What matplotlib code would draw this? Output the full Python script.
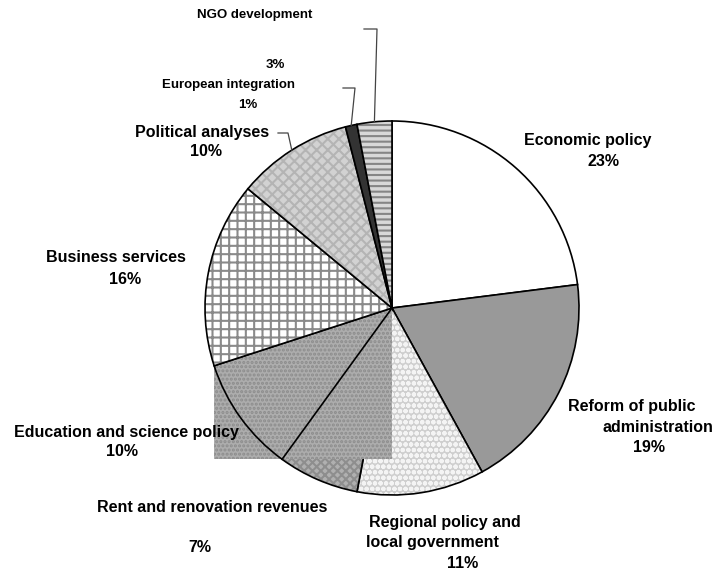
import numpy as np
import matplotlib
matplotlib.use("Agg")
import matplotlib.pyplot as plt
from matplotlib.patches import Wedge, Rectangle

plt.rcParams["hatch.linewidth"] = 1.5

# data (clockwise from 12 o'clock)
categories = [
    "Economic policy", "Reform of public administration",
    "Regional policy and local government", "Rent and renovation revenues",
    "Education and science policy", "Business services",
    "Political analyses", "European integration", "NGO development",
]
shares = [23, 19, 11, 7, 10, 16, 10, 1, 3]

# styles: (face, hatch, hatch colour)
styles = [
    ("#ffffff", None, None),
    ("#999999", None, None),
    ("#cfcfcf", "ooo", "#f4f4f4"),
    ("#b0b0b0", "xxxx", "#8e8e8e"),
    ("#adadad", "....", "#8c8c8c"),
    ("#ffffff", "++", "#8a8a8a"),
    ("#d2d2d2", "xxx", "#b4b4b4"),
    ("#333333", None, None),
    ("#d8d8d8", "---", "#858585"),
]

# label lines in pixel positions (text, x, y)
label_lines = [
    [("Economic policy", 588, 140), ("23%", 603, 162)],
    [("Reform of public", 632, 407), ("administration", 658, 427), ("19%", 649, 447)],
    [("Regional policy and", 445, 522), ("local government", 432, 542), ("11%", 463, 563)],
    [("Rent and renovation revenues", 212, 507), ("7%", 200, 547)],
    [("Education and science policy", 126, 432), ("10%", 122, 452)],
    [("Business services", 116, 258), ("16%", 125, 280)],
    [("Political analyses", 202, 132), ("10%", 206, 152)],
    [("European integration", 229, 85), ("1%", 248, 105)],
    [("NGO development", 255, 15), ("3%", 275, 65)],
]
small = {7, 8}
# leader line elbows in pixels
leaders = {6: [(278, 133), (288, 133)],
           7: [(343, 88), (355, 88)],
           8: [(364, 29), (377, 29)]}

W, H = 718, 573
CX, CY, R = 392, 308, 187


def px(x, y):
    return (x - CX) / R, (CY - y) / R


fig = plt.figure(figsize=(W / 100, H / 100), dpi=100)
ax = fig.add_axes([0, 0, 1, 1])
ax.set_xlim(-CX / R, (W - CX) / R)
ax.set_ylim((CY - H) / R, CY / R)
ax.axis("off")

total = sum(shares)
start = 90.0
z = 1
for i, (v, (fc, hatch, hc)) in enumerate(zip(shares, styles)):
    end = start - 360.0 * v / total
    if i == 4:
        # texture box spills over its bounding rectangle
        a = np.radians([end, start])
        xs = np.r_[np.cos(a), 0]
        ys = np.r_[np.sin(a), 0]
        ax.add_patch(Rectangle((xs.min(), ys.min()), xs.max() - xs.min(), ys.max() - ys.min(),
                               facecolor=fc, hatch=hatch, edgecolor=hc, lw=0, zorder=z))
    else:
        ax.add_patch(Wedge((0, 0), 1, end, start, facecolor=fc, hatch=hatch,
                           edgecolor=hc if hc else fc, lw=0, zorder=z))
    ax.add_patch(Wedge((0, 0), 1, end, start, fill=False, edgecolor="black",
                       lw=1.2, zorder=z + 1))
    z += 2

    if i in leaders:
        mid = np.radians((start + end) / 2)
        pts = [px(*p) for p in leaders[i]] + [(np.cos(mid), np.sin(mid))]
        ax.plot([p[0] for p in pts], [p[1] for p in pts], color="#444444", lw=0.9, zorder=50)

    for txt, x, y in label_lines[i]:
        ax.text(*px(x, y), txt, ha="center", va="center", family="Liberation Sans",
                weight="bold", fontsize=9.5 if i in small else 11.5, zorder=60)
    start = end

fig.savefig("out.png", dpi=100)
